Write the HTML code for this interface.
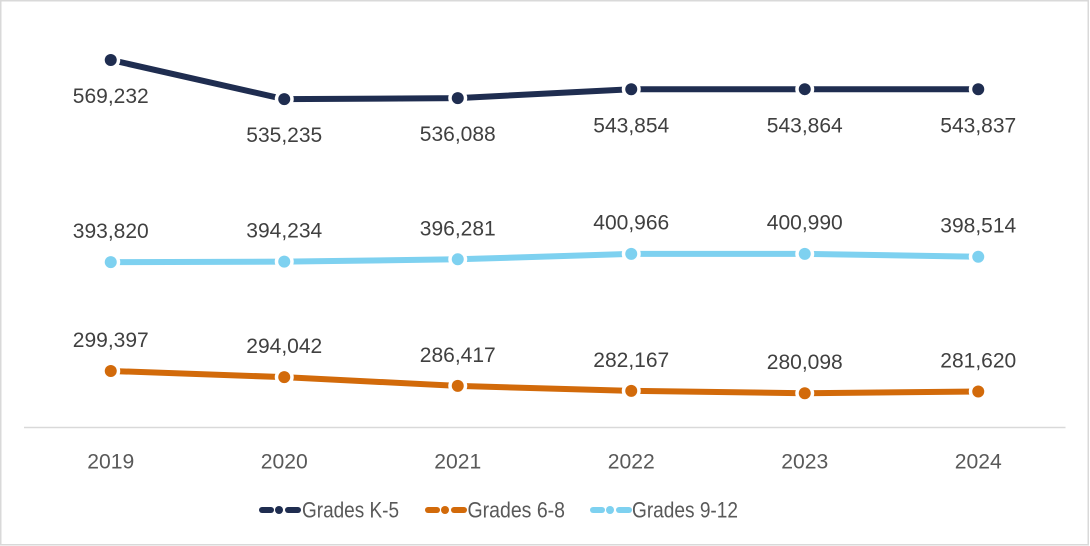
<!DOCTYPE html>
<html>
<head>
<meta charset="utf-8">
<style>
  html, body { margin: 0; padding: 0; background: #ffffff; }
  svg { display: block; }
  text { font-family: "Liberation Sans", "DejaVu Sans", sans-serif; }
</style>
</head>
<body>
<svg width="1090" height="546" viewBox="0 0 1090 546" xmlns="http://www.w3.org/2000/svg">
  <rect x="0" y="0" width="1090" height="546" fill="#ffffff"/>
  <rect x="0.75" y="0.75" width="1087.5" height="544" fill="none" stroke="#d9d9d9" stroke-width="1.5"/>

  <!-- axis line -->
  <line x1="24" y1="427.5" x2="1065.5" y2="427.5" stroke="#d9d9d9" stroke-width="1.5"/>

  <!-- x labels -->
  <g font-size="21" fill="#595959" text-anchor="middle">
    <text x="110.75" y="468.5" textLength="47" lengthAdjust="spacingAndGlyphs">2019</text>
    <text x="284.25" y="468.5" textLength="47" lengthAdjust="spacingAndGlyphs">2020</text>
    <text x="457.75" y="468.5" textLength="47" lengthAdjust="spacingAndGlyphs">2021</text>
    <text x="631.25" y="468.5" textLength="47" lengthAdjust="spacingAndGlyphs">2022</text>
    <text x="804.75" y="468.5" textLength="47" lengthAdjust="spacingAndGlyphs">2023</text>
    <text x="978.25" y="468.5" textLength="47" lengthAdjust="spacingAndGlyphs">2024</text>
  </g>

  <!-- Series lines -->
  <g fill="none" stroke-width="6" stroke-linejoin="round">
    <polyline stroke="#1f2d50" points="110.75,59.95 284.25,99.14 457.75,98.15 631.25,89.2 804.75,89.19 978.25,89.22"/>
    <polyline stroke="#7ed1f0" points="110.75,262.13 284.25,261.66 457.75,259.3 631.25,253.9 804.75,253.87 978.25,256.72"/>
    <polyline stroke="#d26a0a" points="110.75,370.97 284.25,377.14 457.75,385.93 631.25,390.82 804.75,393.21 978.25,391.45"/>
  </g>

  <!-- markers -->
  <g fill="#ffffff">
    <circle cx="110.75" cy="59.95" r="9.5"/><circle cx="284.25" cy="99.14" r="9.5"/><circle cx="457.75" cy="98.15" r="9.5"/>
    <circle cx="631.25" cy="89.2" r="9.5"/><circle cx="804.75" cy="89.19" r="9.5"/><circle cx="978.25" cy="89.22" r="9.5"/>
    <circle cx="110.75" cy="262.13" r="9.5"/><circle cx="284.25" cy="261.66" r="9.5"/><circle cx="457.75" cy="259.3" r="9.5"/>
    <circle cx="631.25" cy="253.9" r="9.5"/><circle cx="804.75" cy="253.87" r="9.5"/><circle cx="978.25" cy="256.72" r="9.5"/>
    <circle cx="110.75" cy="370.97" r="9.5"/><circle cx="284.25" cy="377.14" r="9.5"/><circle cx="457.75" cy="385.93" r="9.5"/>
    <circle cx="631.25" cy="390.82" r="9.5"/><circle cx="804.75" cy="393.21" r="9.5"/><circle cx="978.25" cy="391.45" r="9.5"/>
  </g>
  <g fill="#1f2d50">
    <circle cx="110.75" cy="59.95" r="6"/><circle cx="284.25" cy="99.14" r="6"/><circle cx="457.75" cy="98.15" r="6"/>
    <circle cx="631.25" cy="89.2" r="6"/><circle cx="804.75" cy="89.19" r="6"/><circle cx="978.25" cy="89.22" r="6"/>
  </g>
  <g fill="#7ed1f0">
    <circle cx="110.75" cy="262.13" r="6"/><circle cx="284.25" cy="261.66" r="6"/><circle cx="457.75" cy="259.3" r="6"/>
    <circle cx="631.25" cy="253.9" r="6"/><circle cx="804.75" cy="253.87" r="6"/><circle cx="978.25" cy="256.72" r="6"/>
  </g>
  <g fill="#d26a0a">
    <circle cx="110.75" cy="370.97" r="6"/><circle cx="284.25" cy="377.14" r="6"/><circle cx="457.75" cy="385.93" r="6"/>
    <circle cx="631.25" cy="390.82" r="6"/><circle cx="804.75" cy="393.21" r="6"/><circle cx="978.25" cy="391.45" r="6"/>
  </g>

  <!-- data labels -->
  <g font-size="21" fill="#404040" text-anchor="middle">
    <text x="110.75" y="103" textLength="76" lengthAdjust="spacingAndGlyphs">569,232</text>
    <text x="284.25" y="142" textLength="76" lengthAdjust="spacingAndGlyphs">535,235</text>
    <text x="457.75" y="141" textLength="76" lengthAdjust="spacingAndGlyphs">536,088</text>
    <text x="631.25" y="132.5" textLength="76" lengthAdjust="spacingAndGlyphs">543,854</text>
    <text x="804.75" y="132.5" textLength="76" lengthAdjust="spacingAndGlyphs">543,864</text>
    <text x="978.25" y="132.5" textLength="76" lengthAdjust="spacingAndGlyphs">543,837</text>

    <text x="110.75" y="238" textLength="76" lengthAdjust="spacingAndGlyphs">393,820</text>
    <text x="284.25" y="237.6" textLength="76" lengthAdjust="spacingAndGlyphs">394,234</text>
    <text x="457.75" y="235.3" textLength="76" lengthAdjust="spacingAndGlyphs">396,281</text>
    <text x="631.25" y="229.6" textLength="76" lengthAdjust="spacingAndGlyphs">400,966</text>
    <text x="804.75" y="229.6" textLength="76" lengthAdjust="spacingAndGlyphs">400,990</text>
    <text x="978.25" y="232.7" textLength="76" lengthAdjust="spacingAndGlyphs">398,514</text>

    <text x="110.75" y="347" textLength="76" lengthAdjust="spacingAndGlyphs">299,397</text>
    <text x="284.25" y="353.1" textLength="76" lengthAdjust="spacingAndGlyphs">294,042</text>
    <text x="457.75" y="361.9" textLength="76" lengthAdjust="spacingAndGlyphs">286,417</text>
    <text x="631.25" y="366.8" textLength="76" lengthAdjust="spacingAndGlyphs">282,167</text>
    <text x="804.75" y="369.2" textLength="76" lengthAdjust="spacingAndGlyphs">280,098</text>
    <text x="978.25" y="367.4" textLength="76" lengthAdjust="spacingAndGlyphs">281,620</text>
  </g>

  <!-- legend -->
  <g stroke-width="6" stroke-linecap="round">
    <line x1="262" y1="510" x2="271" y2="510" stroke="#1f2d50"/>
    <line x1="288" y1="510" x2="298" y2="510" stroke="#1f2d50"/>
    <line x1="428" y1="510" x2="437" y2="510" stroke="#d26a0a"/>
    <line x1="454" y1="510" x2="464" y2="510" stroke="#d26a0a"/>
    <line x1="593" y1="510" x2="602" y2="510" stroke="#7ed1f0"/>
    <line x1="619" y1="510" x2="629" y2="510" stroke="#7ed1f0"/>
  </g>
  <circle cx="279" cy="510" r="4" fill="#1f2d50"/>
  <circle cx="445" cy="510" r="4" fill="#d26a0a"/>
  <circle cx="610" cy="510" r="4" fill="#7ed1f0"/>
  <g font-size="22" fill="#595959">
    <text x="302" y="517.5" textLength="97" lengthAdjust="spacingAndGlyphs">Grades K-5</text>
    <text x="467.5" y="517.5" textLength="97.5" lengthAdjust="spacingAndGlyphs">Grades 6-8</text>
    <text x="632" y="517.5" textLength="106" lengthAdjust="spacingAndGlyphs">Grades 9-12</text>
  </g>
</svg>
</body>
</html>
